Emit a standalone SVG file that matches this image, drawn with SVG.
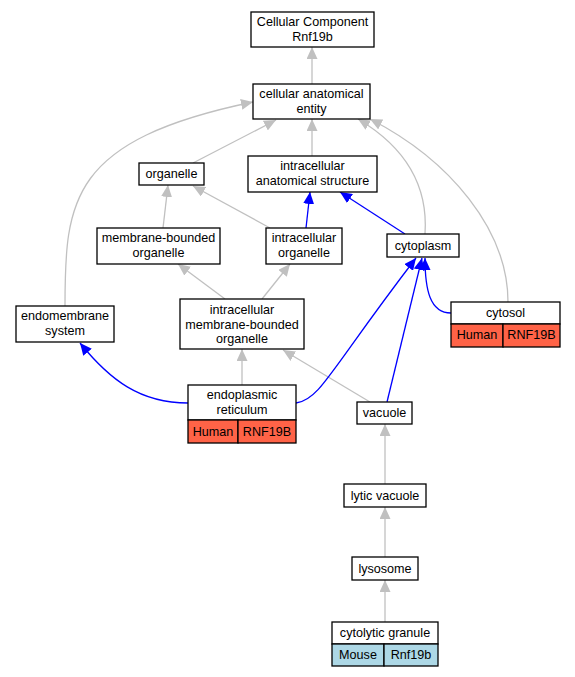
<svg xmlns="http://www.w3.org/2000/svg" width="575" height="677" viewBox="0 0 575 677">
<defs>
<marker id="ag" markerUnits="userSpaceOnUse" markerWidth="12" markerHeight="11" refX="12" refY="5.5" orient="auto"><path d="M0,0 L12,5.5 L0,11 z" fill="#c0c0c0"/></marker>
<marker id="ab" markerUnits="userSpaceOnUse" markerWidth="12" markerHeight="11" refX="12" refY="5.5" orient="auto"><path d="M0,0 L12,5.5 L0,11 z" fill="#0000ff"/></marker>
</defs>
<style>
.n{fill:#fff;stroke:#000;stroke-width:1.3}
.h{fill:#ff6347;stroke:#000;stroke-width:1.3}
.m{fill:#add8e6;stroke:#000;stroke-width:1.3}
text{font-family:"Liberation Sans",Arial,sans-serif;font-size:12.6px;text-anchor:middle;fill:#000}
.g{fill:none;stroke:#c0c0c0;stroke-width:1.3;marker-end:url(#ag)}
.b{fill:none;stroke:#0000ff;stroke-width:1.3;marker-end:url(#ab)}
</style>
<rect width="575" height="677" fill="#fff"/>
<g id="edges">
<path class="g" d="M312,84 L312,47"/>
<path class="g" d="M193,163 L276,120"/>
<path class="g" d="M312,156 L312,119"/>
<path class="g" d="M425,234 C428,190 410,150 358,119"/>
<path class="g" d="M508,302 C508,230 450,160 370,119"/>
<path class="g" d="M65,306 C65,200 70,140 253,102"/>
<path class="g" d="M163,228 L168,185"/>
<path class="g" d="M270,228 L193,186"/>
<path class="b" d="M306,228 L310,192"/>
<path class="b" d="M405,234 L340,192"/>
<path class="g" d="M225,299 L178,264"/>
<path class="g" d="M262,299 L290,264"/>
<path class="g" d="M242,385 L242,349"/>
<path class="g" d="M370,402 L283,350"/>
<path class="b" d="M188,403 C140,403 110,380 80,343"/>
<path class="b" d="M296,403 C320,400 330,370 416,258"/>
<path class="b" d="M387,402 L422,258"/>
<path class="b" d="M451,313 C430,313 425,290 425,258"/>
<path class="g" d="M385,484 L385,424"/>
<path class="g" d="M385,557 L385,507"/>
<path class="g" d="M385,622 L385,580"/>
</g>
<g id="cc"><rect class="n" x="251" y="12" width="123" height="35"/><text x="312.5" y="26">Cellular Component</text><text x="312.5" y="41">Rnf19b</text></g>
<g id="cae"><rect class="n" x="253" y="84" width="117" height="35"/><text x="311.5" y="98">cellular anatomical</text><text x="311.5" y="113">entity</text></g>
<g id="organelle"><rect class="n" x="139" y="163" width="65" height="22"/><text x="171.5" y="178">organelle</text></g>
<g id="ias"><rect class="n" x="248" y="156" width="129" height="36"/><text x="312.5" y="170">intracellular</text><text x="312.5" y="185">anatomical structure</text></g>
<g id="mbo"><rect class="n" x="97" y="228" width="123" height="36"/><text x="158.5" y="242">membrane-bounded</text><text x="158.5" y="257">organelle</text></g>
<g id="io"><rect class="n" x="266" y="228" width="76" height="36"/><text x="304" y="242">intracellular</text><text x="304" y="257">organelle</text></g>
<g id="cytoplasm"><rect class="n" x="387" y="234" width="72" height="23"/><text x="423" y="250">cytoplasm</text></g>
<g id="ems"><rect class="n" x="16" y="306" width="98" height="36"/><text x="65" y="320">endomembrane</text><text x="65" y="335">system</text></g>
<g id="imbo"><rect class="n" x="180" y="299" width="124" height="50"/><text x="242" y="314">intracellular</text><text x="242" y="329">membrane-bounded</text><text x="242" y="343">organelle</text></g>
<g id="cytosol"><rect class="n" x="451" y="302" width="109" height="22"/><text x="505.5" y="317">cytosol</text><rect class="h" x="451" y="324" width="52" height="23"/><rect class="h" x="503" y="324" width="57" height="23"/><text x="477" y="339">Human</text><text x="531.5" y="339">RNF19B</text></g>
<g id="er"><rect class="n" x="188" y="385" width="108" height="35"/><text x="242" y="399">endoplasmic</text><text x="242" y="414">reticulum</text><rect class="h" x="188" y="420" width="50" height="23"/><rect class="h" x="238" y="420" width="58" height="23"/><text x="213" y="436">Human</text><text x="267" y="436">RNF19B</text></g>
<g id="vacuole"><rect class="n" x="357" y="402" width="55" height="22"/><text x="384.5" y="417">vacuole</text></g>
<g id="lv"><rect class="n" x="344" y="484" width="82" height="23"/><text x="385" y="500">lytic vacuole</text></g>
<g id="lysosome"><rect class="n" x="352" y="557" width="66" height="23"/><text x="385" y="573">lysosome</text></g>
<g id="cg"><rect class="n" x="332" y="622" width="106" height="22"/><text x="385" y="637">cytolytic granule</text><rect class="m" x="332" y="644" width="52" height="22"/><rect class="m" x="384" y="644" width="54" height="22"/><text x="358" y="659">Mouse</text><text x="411" y="659">Rnf19b</text></g>
</svg>
